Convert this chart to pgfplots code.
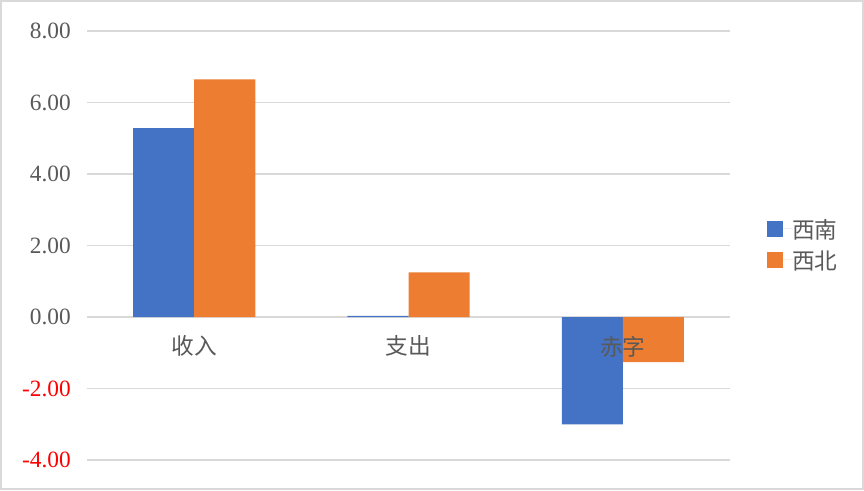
\documentclass[border=0pt]{standalone}
\usepackage{pgfplots}
\pgfplotsset{compat=1.18}
\usepackage{fontspec}
\setmainfont{Liberation Serif}
\newfontfamily\cjk{Noto Sans CJK SC}
\definecolor{cblue}{HTML}{4472C4}
\definecolor{corange}{HTML}{ED7D31}
\definecolor{cgrid}{HTML}{D9D9D9}
\definecolor{ctext}{HTML}{595959}
\pgfplotsset{common/.style={
  at={(65.25pt,22.5pt)}, anchor=south west,
  scale only axis, width=482.25pt, height=321.75pt,
  xmin=-0.5, xmax=2.5, ymin=-4, ymax=8,
  major tick length=0pt,
  xtick={0,1,2},
}}
\begin{document}
\begin{tikzpicture}
\path[use as bounding box] (0,0) rectangle (648pt,367.5pt);
\draw[cgrid, line width=1.5pt] (0.75pt,0.75pt) rectangle (647.25pt,366.75pt);
\begin{axis}[
  common,
  ybar=0pt, bar width=0.285,
  axis x line*=middle, axis y line*=left,
  x axis line style={cgrid, line width=0.9pt},
  y axis line style={draw=none},
  ymajorgrids, grid style={cgrid, line width=0.9pt},
  xticklabels={},
  ytick={-4,-2,0,2,4,6,8},
  yticklabels={{\textcolor{red}{-4.00}},{\textcolor{red}{-2.00}},0.00,2.00,4.00,6.00,8.00},
  yticklabel style={font=\fontsize{17.5}{17.5}\selectfont, text=ctext, anchor=east, inner sep=0pt, xshift=-12pt},
  legend style={at={(axis description cs:1.057,0.503)}, anchor=west, draw=none, fill=none,
    font=\cjk\fontsize{17}{17}\selectfont, text=ctext, inner sep=0pt, row sep=9pt,
    nodes={inner sep=0pt, text depth=0pt}},
  legend cell align=left,
  legend image code/.code={\fill[#1] (0pt,-6pt) rectangle (12pt,6pt); \path (0pt,0pt) -- (19pt,0pt);},
]
\addplot[fill=cblue, draw=none] coordinates {(0,5.28) (1,0.03) (2,-3.00)};
\addplot[fill=corange, draw=none] coordinates {(0,6.65) (1,1.25) (2,-1.26)};
\legend{西南,西北}
\end{axis}
\begin{axis}[
  common,
  axis x line*=middle, axis y line=none,
  x axis line style={draw=none},
  xticklabels={收入,支出,赤字},
  xticklabel style={font=\cjk\fontsize{17}{17}\selectfont, text=ctext, anchor=north, inner sep=0pt, yshift=-14pt},
]
\end{axis}
\end{tikzpicture}
\end{document}
